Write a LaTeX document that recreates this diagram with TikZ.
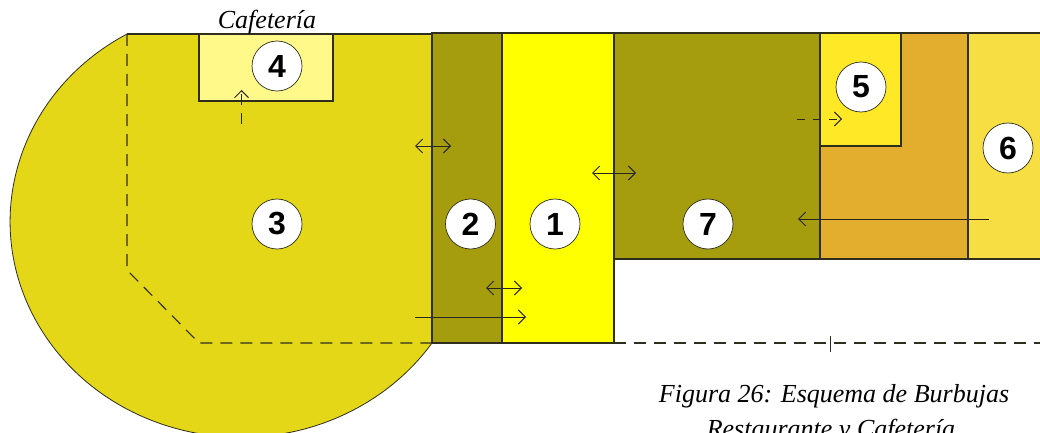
\documentclass[tikz,border=0pt]{standalone}
\usepackage{fontspec}
\setmainfont{Liberation Serif}
\newfontfamily\numfont{Liberation Sans}
\usetikzlibrary{arrows.meta}
\definecolor{salon}{HTML}{E4D717}
\definecolor{cafe}{HTML}{FFF98A}
\definecolor{paso}{HTML}{A59D0D}
\definecolor{hall}{HTML}{FFFF00}
\definecolor{serv}{HTML}{E3AD2E}
\definecolor{cocina}{HTML}{FFE926}
\definecolor{patio}{HTML}{F7DE42}
\definecolor{trazo}{HTML}{2E2E1E}
\tikzset{
  room/.style={draw=trazo,line width=1.1pt},
  bubble/.style={circle,draw=trazo,fill=white,line width=0.7pt,minimum size=50pt,inner sep=0pt,
    font=\numfont\bfseries\fontsize{32}{32}\selectfont},
  cota/.style={draw=trazo,line width=1.1pt,dash pattern=on 12pt off 8pt},
  flecha/.style={draw=black!85,line width=0.9pt,>={Straight Barb[length=7pt,width=14pt]}},
  rotulo/.style={anchor=base,font=\itshape\fontsize{26}{26}\selectfont}
}
\begin{document}
\begin{tikzpicture}[x=1pt,y=1pt]
\clip (0,0) rectangle (1040,432);
% zonas
\fill[salon,draw=trazo,line width=0.8pt] (432,398) -- (127,398)
  arc[start angle=119.6,end angle=325.8,x radius=231pt,y radius=215.7pt] -- cycle;
\draw[room] (127,398) -- (432,398);
\filldraw[room,fill=cafe] (199,398) rectangle (333,331);
\filldraw[room,fill=paso] (432,399) rectangle (502,89);
\filldraw[room,fill=hall] (502,399) rectangle (614,89);
\filldraw[room,fill=paso] (614,399) rectangle (820,173);
\filldraw[room,fill=serv] (820,399) rectangle (968,173);
\filldraw[room,fill=cocina] (820,399) rectangle (901,286);
\filldraw[room,fill=patio] (968,399) rectangle (1041,173);
% limites
\draw[cota] (127,398) -- (127,162) -- (199,89) -- (432,89);
\draw[cota] (614,89) -- (1040,89);
\draw[draw=trazo,line width=0.8pt] (830,96) -- (830,80);
% burbujas
\node[bubble] (b1) at (555,208) {1};
\node[bubble] (b2) at (470.5,208) {2};
\node[bubble] (b3) at (277,208) {3};
\node[bubble] (b4) at (277,366) {4};
\node[bubble] (b5) at (861,345) {5};
\node[bubble] (b6) at (1008,284) {6};
\node[bubble] (b7) at (708,208) {7};
% flechas
\coordinate (c1) at (241.5,308);
\coordinate (c2) at (241.5,342);
\coordinate (c3) at (415,286);
\coordinate (c4) at (451,286);
\coordinate (c5) at (592,259);
\coordinate (c6) at (636,259);
\coordinate (c7) at (797,313);
\coordinate (c8) at (842,313);
\coordinate (c9) at (989,213);
\coordinate (c10) at (798,213);
\coordinate (c11) at (486,144);
\coordinate (c12) at (522,144);
\coordinate (c13) at (415,115);
\coordinate (c14) at (526,115);
\draw[flecha,->,dash pattern=on 11pt off 8pt] (c1) -- (c2);
\draw[flecha,<->] (c3) -- (c4);
\draw[flecha,<->] (c5) -- (c6);
\draw[flecha,->,dash pattern=on 8pt off 8pt] (c7) -- (c8);
\draw[flecha,->] (c9) -- (c10);
\draw[flecha,<->] (c11) -- (c12);
\draw[flecha,->] (c13) -- (c14);
% textos
\node[rotulo] (t1) at (267,403) {Cafetería};
\node[rotulo] (t2) at (834,30) {Figura 26: Esquema de Burbujas};
\node[rotulo] (t3) at (831,-5) {Restaurante y Cafetería};
\end{tikzpicture}
\end{document}
